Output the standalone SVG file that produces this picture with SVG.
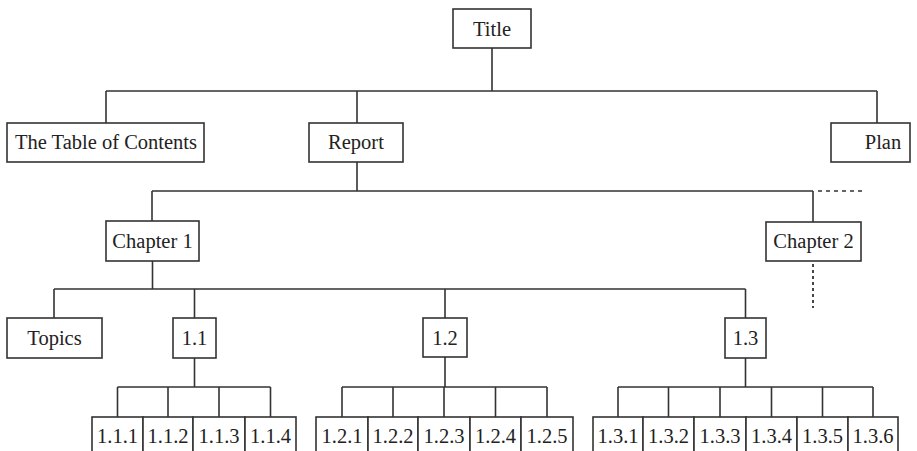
<svg xmlns="http://www.w3.org/2000/svg" width="917" height="451" viewBox="0 0 917 451">
<style>
.box{fill:#fff;stroke:#333;stroke-width:1.6}
.lbl{font-family:"Liberation Serif","Times New Roman",serif;font-size:20.5px;fill:#222;text-anchor:middle}
.ln{stroke:#333;stroke-width:1.6;fill:none}
.dash{stroke:#333;stroke-width:1.6;fill:none;stroke-dasharray:4 4}
.dot{stroke:#333;stroke-width:1.8;fill:none;stroke-dasharray:3 3}
</style>
<rect width="917" height="451" fill="#fff"/>
<g id="connectors">
<path class="ln" d="M492 48V91M106 91H877M106 91V123M357 91V123M877 91V123"/>
<path class="ln" d="M357 162V191M152 191H813M152 191V221M813 191V222"/>
<path class="dash" d="M818 191H862"/>
<path class="dot" d="M813 264V308"/>
<path class="ln" d="M152.5 261V289M54 289H745.5M54 289V318M194.5 289V318M445 289V318M745.5 289V318"/>
<path class="ln" d="M194.5 358V387M117.5 387H270.5M117.5 387V417M168 387V417M219 387V417M270.5 387V417"/>
<path class="ln" d="M445 357V387M342 387H547M342 387V417M393 387V417M444 387V417M495.5 387V417M547 387V417"/>
<path class="ln" d="M745.5 358V387M618 387H873M618 387V417M668.5 387V417M720 387V417M771.5 387V417M822.5 387V417M873 387V417"/>
</g>
<g id="title"><rect class="box" x="453" y="9" width="78" height="39"/><text class="lbl" x="492" y="36">Title</text></g>
<g id="toc"><rect class="box" x="7" y="123" width="197" height="39"/><text class="lbl" x="106" y="149">The Table of Contents</text></g>
<g id="report"><rect class="box" x="309" y="123" width="94" height="39"/><text class="lbl" x="356" y="149">Report</text></g>
<g id="plan"><rect class="box" x="831" y="123" width="79" height="39"/><text class="lbl" x="883" y="149">Plan</text></g>
<g id="chapter1"><rect class="box" x="106" y="221" width="93" height="40"/><text class="lbl" x="152.5" y="248">Chapter 1</text></g>
<g id="chapter2"><rect class="box" x="766" y="222" width="95" height="39"/><text class="lbl" x="813.5" y="248">Chapter 2</text></g>
<g id="topics"><rect class="box" x="7" y="318" width="95" height="40"/><text class="lbl" x="54.5" y="345">Topics</text></g>
<g id="n1_1"><rect class="box" x="173" y="318" width="43" height="40"/><text class="lbl" x="194.5" y="345">1.1</text></g>
<g id="n1_2"><rect class="box" x="423" y="318" width="44" height="39"/><text class="lbl" x="445" y="345">1.2</text></g>
<g id="n1_3"><rect class="box" x="725" y="318" width="41" height="40"/><text class="lbl" x="745.5" y="345">1.3</text></g>
<g id="n1_1_1"><rect class="box" x="92" y="417" width="51" height="44"/><text class="lbl" x="117.5" y="443">1.1.1</text></g>
<g id="n1_1_2"><rect class="box" x="143" y="417" width="50" height="44"/><text class="lbl" x="168" y="443">1.1.2</text></g>
<g id="n1_1_3"><rect class="box" x="193" y="417" width="52" height="44"/><text class="lbl" x="219" y="443">1.1.3</text></g>
<g id="n1_1_4"><rect class="box" x="245" y="417" width="51" height="44"/><text class="lbl" x="270.5" y="443">1.1.4</text></g>
<g id="n1_2_1"><rect class="box" x="316" y="417" width="52" height="44"/><text class="lbl" x="342" y="443">1.2.1</text></g>
<g id="n1_2_2"><rect class="box" x="368" y="417" width="50" height="44"/><text class="lbl" x="393" y="443">1.2.2</text></g>
<g id="n1_2_3"><rect class="box" x="418" y="417" width="52" height="44"/><text class="lbl" x="444" y="443">1.2.3</text></g>
<g id="n1_2_4"><rect class="box" x="470" y="417" width="51" height="44"/><text class="lbl" x="495.5" y="443">1.2.4</text></g>
<g id="n1_2_5"><rect class="box" x="521" y="417" width="52" height="44"/><text class="lbl" x="547" y="443">1.2.5</text></g>
<g id="n1_3_1"><rect class="box" x="593" y="417" width="50" height="44"/><text class="lbl" x="618" y="443">1.3.1</text></g>
<g id="n1_3_2"><rect class="box" x="643" y="417" width="51" height="44"/><text class="lbl" x="668.5" y="443">1.3.2</text></g>
<g id="n1_3_3"><rect class="box" x="694" y="417" width="52" height="44"/><text class="lbl" x="720" y="443">1.3.3</text></g>
<g id="n1_3_4"><rect class="box" x="746" y="417" width="51" height="44"/><text class="lbl" x="771.5" y="443">1.3.4</text></g>
<g id="n1_3_5"><rect class="box" x="797" y="417" width="51" height="44"/><text class="lbl" x="822.5" y="443">1.3.5</text></g>
<g id="n1_3_6"><rect class="box" x="848" y="417" width="50" height="44"/><text class="lbl" x="873" y="443">1.3.6</text></g>
</svg>
